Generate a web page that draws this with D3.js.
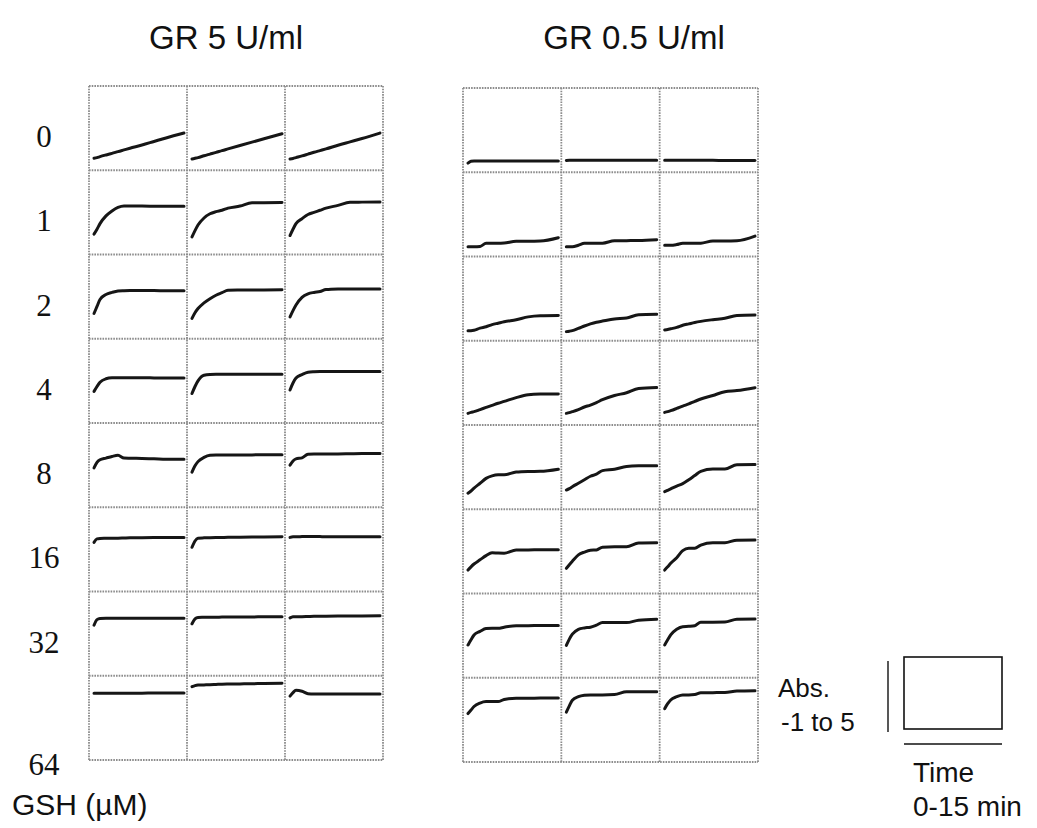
<!DOCTYPE html>
<html>
<head>
<meta charset="utf-8">
<script src="https://cdn.jsdelivr.net/npm/d3@7"></script>
<style>
  html, body { margin: 0; padding: 0; background: #ffffff; }
  svg { display: block; }
</style>
</head>
<body>
<svg id="chart" width="1037" height="828"></svg>
<script>
// Sampling times of each kinetic trace (min)
const times = [0, 0.5, 1, 2, 3, 4, 5, 6, 8, 10, 12, 15];

// GSH concentration of each row (µM) and the three replicate wells per row
const gshLevels = ["0", "1", "2", "4", "8", "16", "32", "64"];
const replicates = ["a", "b", "c"];

// Absorbance traces, GR 5 U/ml (one array per replicate)
const gr5Gsh0 = [
  [-0.15, -0.1, -0.03, 0.09, 0.2, 0.33, 0.45, 0.57, 0.8, 1.05, 1.3, 1.65],
  [-0.2, -0.15, -0.1, 0.03, 0.15, 0.27, 0.4, 0.52, 0.76, 1.0, 1.24, 1.6],
  [-0.2, -0.16, -0.1, 0.02, 0.15, 0.28, 0.4, 0.52, 0.78, 1.02, 1.26, 1.65]
];
const gr5Gsh1 = [
  [0.45, 0.8, 1.2, 1.75, 2.1, 2.35, 2.45, 2.45, 2.45, 2.44, 2.43, 2.43],
  [0.25, 0.7, 1.1, 1.6, 1.9, 2.05, 2.15, 2.3, 2.45, 2.68, 2.69, 2.7],
  [0.35, 0.8, 1.2, 1.55, 1.85, 2.0, 2.15, 2.3, 2.5, 2.72, 2.73, 2.74]
];
const gr5Gsh2 = [
  [0.8, 1.3, 1.8, 2.15, 2.3, 2.4, 2.42, 2.43, 2.43, 2.43, 2.42, 2.42],
  [0.45, 0.85, 1.15, 1.55, 1.85, 2.1, 2.28, 2.45, 2.47, 2.48, 2.48, 2.49],
  [0.55, 1.0, 1.4, 1.95, 2.2, 2.3, 2.36, 2.5, 2.54, 2.55, 2.55, 2.55]
];
const gr5Gsh4 = [
  [1.25, 1.6, 1.9, 2.15, 2.22, 2.23, 2.23, 2.22, 2.22, 2.21, 2.2, 2.2],
  [1.1, 1.6, 2.0, 2.4, 2.46, 2.47, 2.47, 2.47, 2.47, 2.48, 2.48, 2.48],
  [1.35, 1.85, 2.2, 2.45, 2.62, 2.65, 2.66, 2.66, 2.66, 2.66, 2.67, 2.67]
];
const gr5Gsh8 = [
  [1.8, 2.2, 2.38, 2.5, 2.62, 2.7, 2.5, 2.49, 2.48, 2.46, 2.42, 2.42],
  [1.5, 1.95, 2.25, 2.55, 2.7, 2.72, 2.72, 2.72, 2.73, 2.73, 2.74, 2.74],
  [2.0, 2.3, 2.45, 2.52, 2.78, 2.79, 2.79, 2.8, 2.8, 2.81, 2.82, 2.83]
];
const gr5Gsh16 = [
  [2.5, 2.75, 2.78, 2.79, 2.8, 2.8, 2.81, 2.82, 2.83, 2.84, 2.85, 2.85],
  [2.15, 2.6, 2.8, 2.82, 2.83, 2.84, 2.85, 2.86, 2.87, 2.88, 2.89, 2.9],
  [2.85, 2.9, 2.9, 2.91, 2.92, 2.92, 2.91, 2.9, 2.9, 2.9, 2.9, 2.9]
];
const gr5Gsh32 = [
  [2.6, 3.0, 3.08, 3.09, 3.09, 3.09, 3.09, 3.1, 3.1, 3.1, 3.1, 3.1],
  [2.7, 3.05, 3.15, 3.16, 3.17, 3.17, 3.18, 3.18, 3.19, 3.19, 3.2, 3.2],
  [3.12, 3.2, 3.21, 3.21, 3.22, 3.23, 3.23, 3.24, 3.25, 3.25, 3.26, 3.27]
];
const gr5Gsh64 = [
  [3.75, 3.75, 3.75, 3.75, 3.76, 3.76, 3.76, 3.76, 3.76, 3.77, 3.77, 3.77],
  [4.22, 4.3, 4.34, 4.35, 4.36, 4.38, 4.4, 4.41, 4.42, 4.43, 4.45, 4.46],
  [3.55, 3.8, 3.97, 3.9, 3.72, 3.7, 3.7, 3.7, 3.7, 3.7, 3.7, 3.7]
];

// Absorbance traces, GR 0.5 U/ml
const gr05Gsh0 = [
  [-0.35, -0.22, -0.2, -0.2, -0.2, -0.2, -0.2, -0.2, -0.2, -0.2, -0.2, -0.2],
  [-0.16, -0.15, -0.15, -0.15, -0.15, -0.15, -0.15, -0.15, -0.15, -0.15, -0.15, -0.15],
  [-0.15, -0.15, -0.15, -0.15, -0.15, -0.15, -0.15, -0.15, -0.15, -0.16, -0.16, -0.17]
];
const gr05Gsh1 = [
  [-0.3, -0.3, -0.3, -0.28, -0.06, -0.06, -0.06, -0.04, 0.08, 0.08, 0.1, 0.34],
  [-0.3, -0.3, -0.3, -0.2, -0.06, -0.06, -0.06, -0.05, 0.12, 0.13, 0.14, 0.2],
  [-0.2, -0.2, -0.2, -0.15, -0.06, -0.06, -0.06, -0.05, 0.1, 0.1, 0.12, 0.45]
];
const gr05Gsh2 = [
  [-0.28, -0.28, -0.25, -0.1, 0.0, 0.15, 0.25, 0.35, 0.5, 0.7, 0.78, 0.8],
  [-0.35, -0.32, -0.28, -0.12, 0.05, 0.2, 0.32, 0.4, 0.55, 0.62, 0.85, 0.88],
  [-0.23, -0.2, -0.15, -0.05, 0.1, 0.2, 0.3, 0.38, 0.5, 0.6, 0.8, 0.83]
];
const gr05Gsh4 = [
  [-0.17, -0.1, -0.05, 0.1, 0.25, 0.4, 0.55, 0.68, 0.95, 1.15, 1.2, 1.21],
  [-0.17, -0.12, -0.05, 0.1, 0.28, 0.42, 0.6, 0.8, 1.1, 1.3, 1.6, 1.67],
  [-0.1, -0.05, 0.02, 0.18, 0.35, 0.5, 0.68, 0.85, 1.1, 1.37, 1.45, 1.66]
];
const gr05Gsh8 = [
  [0.14, 0.3, 0.5, 0.85, 1.2, 1.38, 1.45, 1.45, 1.65, 1.69, 1.7, 1.85],
  [0.37, 0.47, 0.6, 0.85, 1.1, 1.35, 1.5, 1.75, 1.85, 2.05, 2.09, 2.1],
  [0.25, 0.35, 0.45, 0.65, 0.82, 1.1, 1.4, 1.7, 1.86, 1.86, 2.17, 2.18]
];
const gr05Gsh16 = [
  [0.67, 0.9, 1.1, 1.4, 1.7, 1.9, 1.88, 1.87, 2.1, 2.1, 2.12, 2.12],
  [0.79, 1.05, 1.3, 1.75, 1.95, 2.08, 2.1, 2.3, 2.33, 2.33, 2.6, 2.62],
  [0.67, 0.9, 1.15, 1.55, 2.05, 2.22, 2.22, 2.45, 2.62, 2.62, 2.8, 2.81]
];
const gr05Gsh32 = [
  [1.33, 1.7, 2.05, 2.3, 2.5, 2.52, 2.52, 2.6, 2.71, 2.71, 2.72, 2.72],
  [1.3, 1.75, 2.1, 2.45, 2.55, 2.6, 2.75, 2.93, 2.93, 2.93, 3.1, 3.17],
  [1.33, 1.7, 2.05, 2.45, 2.64, 2.66, 2.7, 2.96, 2.96, 2.97, 3.17, 3.18]
];
const gr05Gsh64 = [
  [2.45, 2.7, 2.95, 3.2, 3.3, 3.3, 3.3, 3.45, 3.54, 3.54, 3.55, 3.55],
  [2.55, 3.0, 3.4, 3.65, 3.75, 3.78, 3.78, 3.78, 3.8, 4.0, 4.0, 4.01],
  [2.8, 3.15, 3.42, 3.65, 3.78, 3.78, 3.8, 3.93, 3.94, 3.95, 4.05, 4.08]
];

const gr5Traces = [gr5Gsh0, gr5Gsh1, gr5Gsh2, gr5Gsh4, gr5Gsh8, gr5Gsh16, gr5Gsh32, gr5Gsh64];
const gr05Traces = [gr05Gsh0, gr05Gsh1, gr05Gsh2, gr05Gsh4, gr05Gsh8, gr05Gsh16, gr05Gsh32, gr05Gsh64];

// Axis ranges shared by every small panel
const absDomain = [-1, 5];
const timeDomain = [0, 15];

const svg = d3.select("#chart");
const sans = "'Liberation Sans', Arial, Helvetica, sans-serif";
const serif = "'Liberation Serif', 'Times New Roman', serif";

// Frames of the two panel grids
const frames = [
  { title: "GR 5 U/ml",   titleX: 226, x: 89,  y: 86, w: 294, h: 674, traces: gr5Traces },
  { title: "GR 0.5 U/ml", titleX: 634, x: 463, y: 88, w: 295, h: 674, traces: gr05Traces }
];

const traceLine = (xs, ys) => d3.line()
  .x((d, i) => xs(times[i]))
  .y(d => ys(d))
  .curve(d3.curveMonotoneX);

let leftRows = null;

frames.forEach((f, fi) => {
  const g = svg.append("g");
  const col = d3.scaleBand().domain(replicates).range([f.x, f.x + f.w]);
  const row = d3.scaleBand().domain(gshLevels).range([f.y, f.y + f.h]);
  if (fi === 0) leftRows = row;

  // Panel title
  svg.append("text")
    .attr("x", f.titleX)
    .attr("y", 49)
    .attr("text-anchor", "middle")
    .attr("font-family", sans)
    .attr("font-size", 33)
    .attr("fill", "#111")
    .text(f.title);

  // Cell borders (light grey, dotted)
  const vx = replicates.map(r => col(r)).concat([f.x + f.w]);
  const hy = gshLevels.map(l => row(l)).concat([f.y + f.h]);
  const gridStyle = sel => sel
    .attr("stroke", "#8c8c8c").attr("stroke-width", 1.8)
    .attr("stroke-dasharray", "1.6 1.1");
  g.selectAll("line.v").data(vx).join("line")
    .attr("x1", d => d).attr("x2", d => d)
    .attr("y1", f.y).attr("y2", f.y + f.h)
    .call(gridStyle);
  g.selectAll("line.h").data(hy).join("line")
    .attr("y1", d => d).attr("y2", d => d)
    .attr("x1", f.x).attr("x2", f.x + f.w)
    .call(gridStyle);

  // Kinetic traces
  f.traces.forEach((rowTraces, ri) => {
    rowTraces.forEach((vals, ci) => {
      const bx = col(replicates[ci]);
      const by = row(gshLevels[ri]);
      const xs = d3.scaleLinear().domain(timeDomain).range([bx + 5, bx + col.bandwidth() - 3]);
      const ys = d3.scaleLinear().domain(absDomain).range([by + row.bandwidth(), by]);
      g.append("path")
        .datum(vals)
        .attr("d", traceLine(xs, ys))
        .attr("fill", "none")
        .attr("stroke", "#161616")
        .attr("stroke-width", 3)
        .attr("stroke-linejoin", "round")
        .attr("stroke-linecap", "round");
    });
  });
});

// GSH row labels
svg.append("g").selectAll("text").data(gshLevels).join("text")
  .attr("x", 44)
  .attr("y", (d, i) => i < gshLevels.length - 1
      ? leftRows(d) + leftRows.bandwidth() / 2 + 19
      : leftRows(d) + leftRows.bandwidth() + 15)
  .attr("text-anchor", "middle")
  .attr("font-family", serif)
  .attr("font-size", 31)
  .attr("fill", "#111")
  .text(d => d);

svg.append("text")
  .attr("x", 12).attr("y", 815)
  .attr("font-family", sans)
  .attr("font-size", 30)
  .attr("fill", "#111")
  .text("GSH (\u00B5M)");

// Scale key: one panel frame with its axis ranges
const key = svg.append("g");
key.append("rect")
  .attr("x", 904).attr("y", 657).attr("width", 98).attr("height", 72)
  .attr("fill", "none").attr("stroke", "#111").attr("stroke-width", 1.6);
key.append("line")
  .attr("x1", 888).attr("x2", 888).attr("y1", 661).attr("y2", 732)
  .attr("stroke", "#111").attr("stroke-width", 1.4);
key.append("line")
  .attr("x1", 904).attr("x2", 1002).attr("y1", 744).attr("y2", 744)
  .attr("stroke", "#111").attr("stroke-width", 1.4);
const keyText = [
  { t: "Abs.", x: 778, y: 697, s: 26 },
  { t: "-1 to 5", x: 781, y: 731, s: 26 },
  { t: "Time", x: 913, y: 782, s: 28 },
  { t: "0-15 min", x: 913, y: 816, s: 28 }
];
key.selectAll("text").data(keyText).join("text")
  .attr("x", d => d.x).attr("y", d => d.y)
  .attr("font-family", sans)
  .attr("font-size", d => d.s)
  .attr("fill", "#111")
  .text(d => d.t);
</script>
</body>
</html>
